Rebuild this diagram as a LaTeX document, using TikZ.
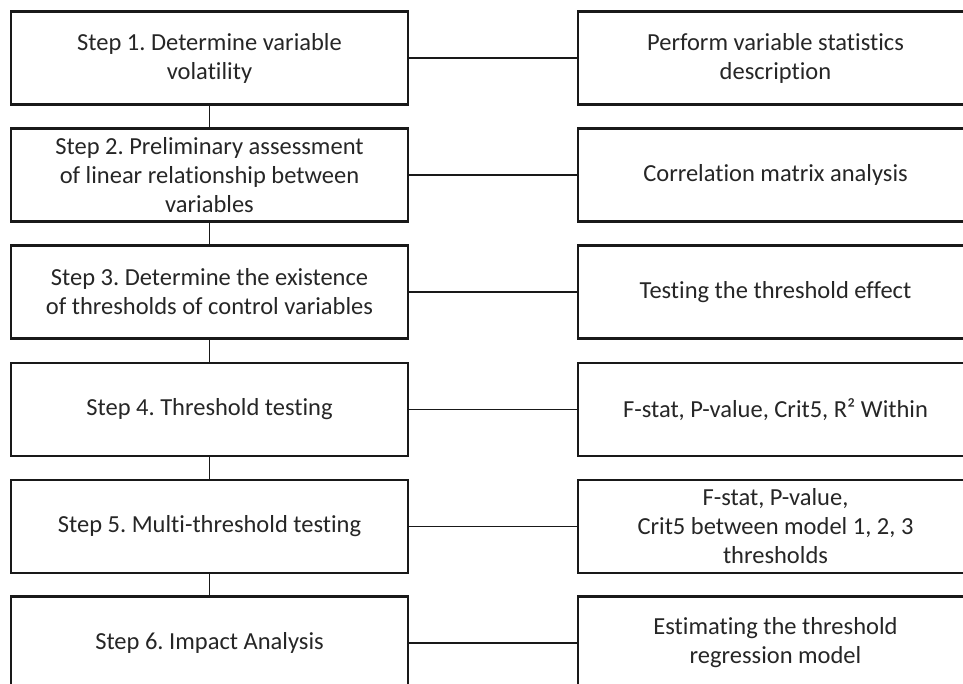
\documentclass[tikz,border=0pt]{standalone}
\usepackage{fontspec}
\setmainfont[RawFeature={-liga;-dlig}]{Carlito}
\frenchspacing
\begin{document}
\begin{tikzpicture}[x=1pt,y=-1pt,
  box/.style={draw=black!90, line width=2.4pt, fill=white, minimum height=93pt,
    inner sep=0pt, align=center, text=black!85,
    font=\fontsize{24.5}{29}\selectfont},
  leftbox/.style={box, minimum width=397pt},
  rightbox/.style={box, minimum width=395pt},
  link/.style={draw=black!90, line width=1.4pt}]
\useasboundingbox (0,0) rectangle (963,684);
\clip (0,0) rectangle (963,684);
\fill[white] (0,0) rectangle (963,684);
% left column
\node[leftbox] (L1) at (209.5,58) {Step 1. Determine variable\\volatility};
\node[leftbox] (L2) at (209.5,175) {Step 2. Preliminary assessment\\of linear relationship between\\variables};
\node[leftbox] (L3) at (209.5,292) {Step 3. Determine the existence\\of thresholds of control variables};
\node[leftbox] (L4) at (209.5,409.5) {Step 4. Threshold testing};
\node[leftbox] (L5) at (209.5,526.5) {Step 5. Multi-threshold testing};
\node[leftbox] (L6) at (209.5,643) {Step 6. Impact Analysis};
% right column
\node[rightbox] (R1) at (775.5,58) {Perform variable statistics\\description};
\node[rightbox] (R2) at (775.5,175) {Correlation matrix analysis};
\node[rightbox] (R3) at (775.5,292) {Testing the threshold effect};
\node[rightbox] (R4) at (775.5,409.5) {F-stat, P-value, Crit5, R² Within};
\node[rightbox] (R5) at (775.5,526.5) {F-stat, P-value,\\Crit5 between model 1, 2, 3\\thresholds};
\node[rightbox] (R6) at (775.5,643) {Estimating the threshold\\regression model};
% vertical connectors
\foreach \a/\b in {L1/L2,L2/L3,L3/L4,L4/L5,L5/L6}
  \draw[link] (\a.south) -- (\b.north);
% horizontal connectors
\foreach \i in {1,...,6}
  \draw[link] (L\i.east) -- (R\i.west);
\end{tikzpicture}
\end{document}
